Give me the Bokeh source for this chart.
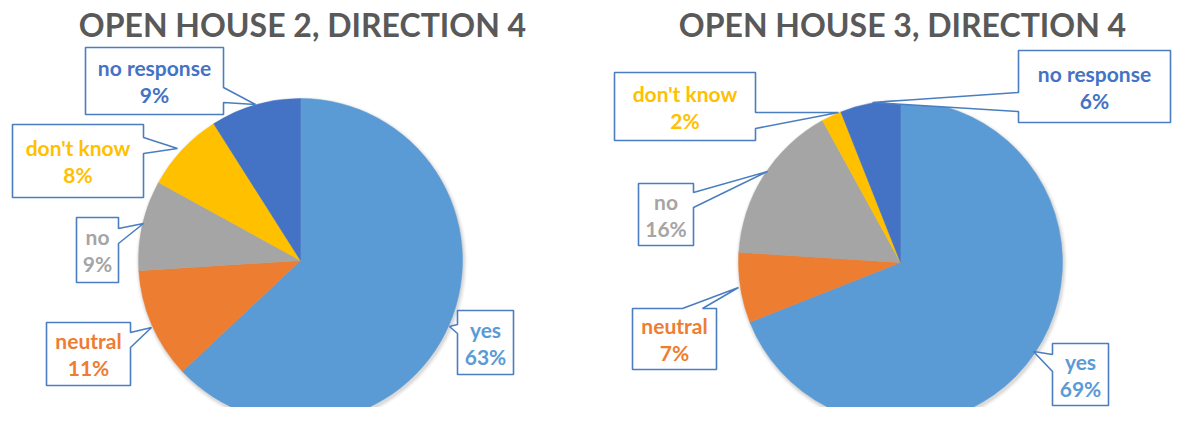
import numpy as np
from bokeh.plotting import figure
from bokeh.models import Range1d, ColumnDataSource
from bokeh.core.properties import value
from bokeh.embed import file_html
from bokeh.resources import INLINE

# ---------------- data ----------------
categories = ["yes", "neutral", "no", "don't know", "no response"]
colors = ["#5B9BD5", "#ED7D31", "#A5A5A5", "#FFC000", "#4472C4"]
titles = ["OPEN HOUSE 2, DIRECTION 4", "OPEN HOUSE 3, DIRECTION 4"]
house2 = [63, 11, 9, 8, 9]
house3 = [69, 7, 16, 2, 6]

# ---------------- layout (reference pixel coords) ----------------
W, H = 1172, 407
centers = [(300, 260), (900, 262)]
radius = 162
# callout boxes: (left, top, right, bottom), side, tail (a, tip, b)
callouts = [
    {
        "yes": ((457, 310, 513, 374), "left", (324, (449, 326), 333)),
        "neutral": ((46, 322, 130, 385), "right", (332, (151, 327), 347)),
        "no": ((76, 217, 118, 282), "right", (228, (143, 223), 243)),
        "don't know": ((12, 124, 143, 197), "right", (137, (177, 148), 153)),
        "no response": ((85, 47, 223, 114), "right", (87, (255, 104), 102)),
    },
    {
        "yes": ((1052, 343, 1108, 405), "left", (354, (1033, 351), 371)),
        "neutral": ((632, 308, 716, 369), "top", (682, (738, 287), 702)),
        "no": ((638, 183, 693, 245), "right", (192, (767, 171), 207)),
        "don't know": ((614, 72, 755, 140), "right", (112, (838, 112), 128)),
        "no response": ((1018, 50, 1170, 122), "left", (92, (872, 102), 111)),
    },
]

def Y(py):
    return 423 - py

p = figure(width=W, height=H, output_backend="svg", toolbar_location=None,
           x_range=Range1d(0, W), y_range=Range1d(423 - H, 423),
           min_border=0)
p.axis.visible = False
p.grid.visible = False
p.outline_line_color = None
p.background_fill_color = "white"

def callout_poly(box, side, tail):
    l, t, r, b = box
    a, tip, c = tail
    if side == "right":
        pts = [(l, t), (r, t), (r, a), tip, (r, c), (r, b), (l, b)]
    elif side == "left":
        pts = [(l, t), (r, t), (r, b), (l, b), (l, c), tip, (l, a)]
    else:  # top
        pts = [(l, t), (a, t), tip, (c, t), (r, t), (r, b), (l, b)]
    xs = [q[0] for q in pts] + [pts[0][0]]
    ys = [Y(q[1]) for q in pts] + [Y(pts[0][1])]
    return xs, ys

for k, vals in enumerate([house2, house3]):
    cx, cy = centers[k]
    # soft shadow
    for i, a in enumerate([0.05, 0.04, 0.03, 0.02]):
        p.circle(x=[cx + 1], y=[Y(cy + 2)], radius=radius + 1 + i, fill_color="#000000",
                 fill_alpha=a, line_color=None)
    total = float(sum(vals))
    fr = np.array(vals) / total
    c1 = np.cumsum(fr)
    c0 = c1 - fr
    src = ColumnDataSource(dict(
        start=list(np.pi / 2 - 2 * np.pi * c1),
        end=list(np.pi / 2 - 2 * np.pi * c0),
        color=colors,
    ))
    p.wedge(x=cx, y=Y(cy), radius=radius, start_angle="start", end_angle="end",
            direction="anticlock", fill_color="color", line_color="color",
            line_width=0.5, source=src)

    # title
    p.text(x=[cx + 2], y=[Y(24)], text=[titles[k]], text_font=value("Lato"),
           text_font_style="bold", text_font_size="32px", text_color="#595959",
           text_align="center", text_baseline="middle")

    # callouts
    for cat, v, col in zip(categories, vals, colors):
        box, side, tail = callouts[k][cat]
        xs, ys = callout_poly(box, side, tail)
        p.patch(xs, ys, fill_color="white", line_color="#4A7EC0", line_width=1.6)
        l, t, r, b = box
        mx = (l + r) / 2
        my = (t + b) / 2
        p.text(x=[mx, mx], y=[Y(my - 13.5), Y(my + 13.5)],
               text=[cat, f"{v}%"], text_font=value("Lato"),
               text_font_style="bold", text_font_size="21px", text_color=col,
               text_align="center", text_baseline="middle")

open("out.html", "w").write(file_html(p, INLINE))
